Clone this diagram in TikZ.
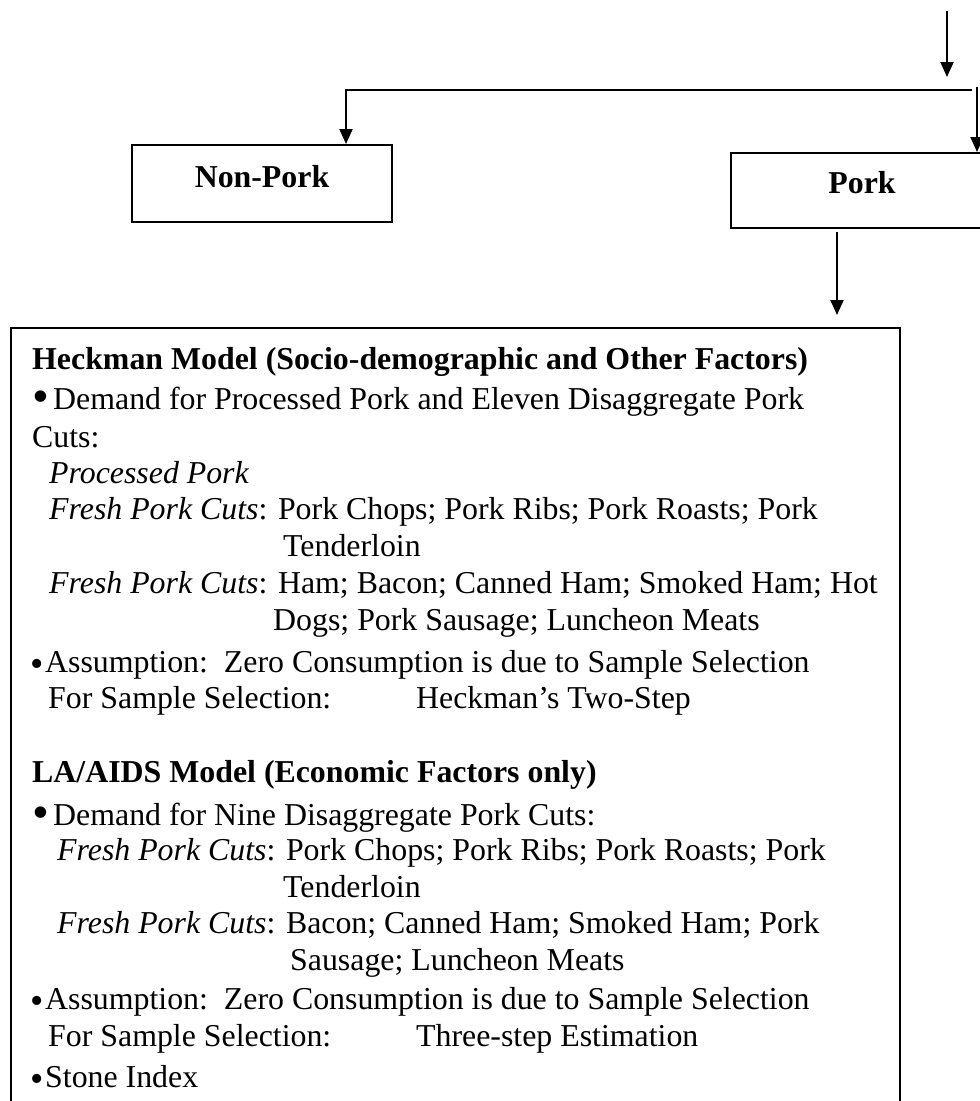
\documentclass[tikz,border=0pt]{standalone}
\usepackage{fontspec}
\setmainfont{Liberation Serif}
\usetikzlibrary{arrows.meta}
\newcommand\bodysize{\fontsize{31.85}{37}\selectfont}
% large list bullet followed by a space, and a small one set close to its word
\newcommand\bigbul{\makebox[21pt][l]{\smash{\fontsize{48}{48}\selectfont\raisebox{-3pt}{•}}}}
\newcommand\smallbul{\makebox[13pt][l]{\kern-2pt\smash{\fontsize{38}{38}\selectfont\raisebox{-4.5pt}{•}}}}
\tikzset{
  arr/.style={line width=2pt,-{Triangle[length=15pt,width=13pt]}},
  box/.style={draw,line width=2pt,inner sep=0pt},
  ln/.style={anchor=base west,inner sep=0pt,font=\bodysize},
  lbl/.style={anchor=base,inner sep=0pt,font=\bodysize\bfseries},
}
\begin{document}
\begin{tikzpicture}[x=1pt,y=-1pt]
\useasboundingbox (0,0) rectangle (980,1101);
\clip (0,0) rectangle (980,1101);

% category boxes
\node[box,minimum width=260pt,minimum height=77pt] (nonpork) at (262,183.5) {};
\node[lbl] (nonporklbl) at (262,187) {Non-Pork};
\node[box,minimum width=262pt,minimum height=75pt] (pork) at (862,190.5) {};
\node[lbl] (porklbl) at (862,193) {Pork};

% model box
\node[box,minimum width=889pt,minimum height=802pt] (models) at (455.5,729) {};

% incoming flow and split
\coordinate (in) at (947,11);
\coordinate (inend) at (947,77);
\draw[arr] (in) -- (inend);
\coordinate (split) at (972,90);
\draw[arr] (split) -| ([xshift=-47pt]nonpork.north east);
\coordinate (rb) at (977,87);
\draw[arr] (rb) -- (rb |- pork.north);
\draw[arr,shorten <=3pt,shorten >=12pt] ([xshift=-25pt]pork.south) -- ([xshift=-25pt]pork.south |- models.north);

% Heckman model
\node[ln,font=\bodysize\bfseries] (h1) at (32,369) {Heckman Model (Socio-demographic and Other Factors)};
\node[ln] (h2) at (32,409) {\bigbul Demand for Processed Pork and Eleven Disaggregate Pork};
\node[ln] (h3) at (32,447) {Cuts:};
\node[ln] (h4) at (49,483) {\itshape Processed Pork};
\node[ln] (h5) at (49,519) {\textit{Fresh Pork Cuts}: Pork Chops; Pork Ribs; Pork Roasts; Pork};
\node[ln] (h6) at (283,556) {Tenderloin};
\node[ln] (h7) at (49,593) {\textit{Fresh Pork Cuts}: Ham; Bacon; Canned Ham; Smoked Ham; Hot};
\node[ln] (h8) at (273,630) {Dogs; Pork Sausage; Luncheon Meats};
\node[ln] (h9) at (32,672) {\smallbul Assumption:\ \ Zero Consumption is due to Sample Selection};
\node[ln] (h10) at (48,708) {For Sample Selection:};
\node[ln] (h11) at (416,708) {Heckman’s Two-Step};

% LA/AIDS model
\node[ln,font=\bodysize\bfseries] (a1) at (32,782) {LA/AIDS Model (Economic Factors only)};
\node[ln] (a2) at (32,825) {\bigbul Demand for Nine Disaggregate Pork Cuts:};
\node[ln] (a3) at (57,860) {\textit{Fresh Pork Cuts}: Pork Chops; Pork Ribs; Pork Roasts; Pork};
\node[ln] (a4) at (283,897) {Tenderloin};
\node[ln] (a5) at (57,933) {\textit{Fresh Pork Cuts}: Bacon; Canned Ham; Smoked Ham; Pork};
\node[ln] (a6) at (290,970) {Sausage; Luncheon Meats};
\node[ln] (a7) at (32,1009) {\smallbul Assumption:\ \ Zero Consumption is due to Sample Selection};
\node[ln] (a8) at (48,1046) {For Sample Selection:};
\node[ln] (a9) at (416,1046) {Three-step Estimation};
\node[ln] (a10) at (32,1087) {\smallbul Stone Index};
\end{tikzpicture}
\end{document}
